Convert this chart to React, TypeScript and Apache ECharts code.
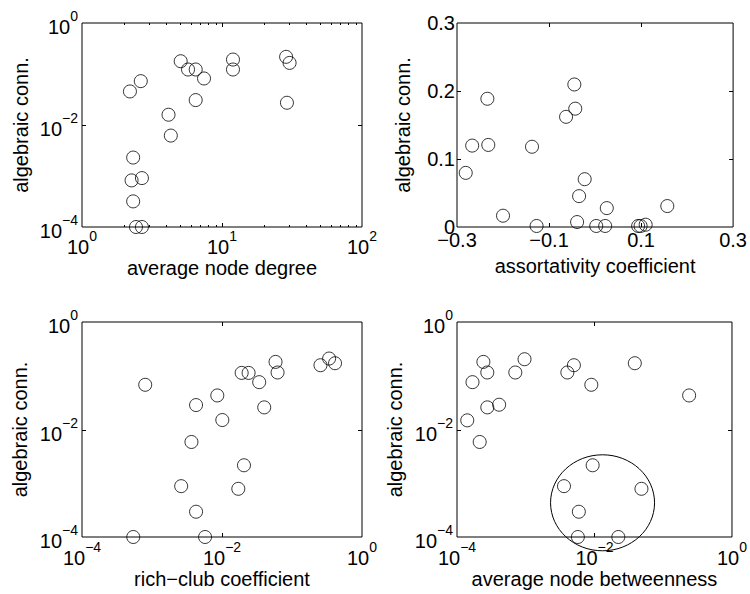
import React, { useEffect, useRef } from 'react';
import * as echarts from 'echarts';

// Panel 1: average node degree vs algebraic connectivity
const degreeX = [2.2, 2.63, 5.07, 5.72, 6.49, 7.44, 6.49, 4.15, 4.31, 11.98, 11.98, 28.7, 30.4, 29.1, 2.32, 2.26, 2.68, 2.32, 2.43, 2.68];
const degreeY = [0.0455, 0.0724, 0.178, 0.1225, 0.1225, 0.0817, 0.0308, 0.0159, 0.0062, 0.192, 0.1225, 0.217, 0.165, 0.0273, 0.0023, 0.00082, 0.00091, 0.000318, 0.0001, 0.0001];

// Panel 2: assortativity coefficient
const assortX = [-0.281, -0.267, -0.234, -0.232, -0.2, -0.137, -0.127, -0.063, -0.045, -0.043, -0.0225, -0.0347, -0.039, 0.0026, 0.022, 0.0255, 0.0936, 0.099, 0.11, 0.157];
const assortY = [0.0796, 0.1197, 0.1886, 0.1207, 0.0166, 0.118, 0.0015, 0.162, 0.2096, 0.174, 0.0703, 0.0454, 0.0073, 0.0015, 0.0015, 0.0278, 0.0015, 0.0015, 0.0034, 0.0308];

// Panel 3: rich-club coefficient
const richX = [5.4e-4, 8.0e-4, 4.26e-3, 3.66e-3, 2.61e-3, 4.26e-3, 5.73e-3, 8.57e-3, 1.01e-2, 1.91e-2, 2.4e-2, 3.4e-2, 4.01e-2, 5.82e-2, 6.22e-2, 2.06e-2, 1.71e-2, 0.255, 0.339, 0.412];
const richY = [1e-4, 0.0679, 0.0285, 0.00586, 8.83e-4, 2.95e-4, 1e-4, 0.043, 0.015, 0.113, 0.113, 0.076, 0.0258, 0.181, 0.115, 0.00216, 7.88e-4, 0.157, 0.209, 0.171];

// Panel 4: average node betweenness
const betwX = [1.41e-4, 1.68e-4, 2.14e-4, 2.42e-4, 2.76e-4, 2.76e-4, 4.1e-4, 7.05e-4, 9.6e-4, 4.03e-3, 5.02e-3, 8.99e-3, 3.86e-2, 0.238, 9.4e-3, 3.6e-3, 4.82e-2, 5.92e-3, 5.73e-3, 2.22e-2];
const betwY = [0.0148, 0.076, 0.00586, 0.181, 0.115, 0.0258, 0.0289, 0.115, 0.203, 0.115, 0.157, 0.0679, 0.171, 0.043, 0.00216, 8.83e-4, 7.88e-4, 2.95e-4, 1e-4, 1e-4];

// Highlight ellipse centre (data coordinates, panel 4)
const ellipseCenter = [1.31e-2, 4.33e-4];

// Tick values
const p1XMajor = [10];
const p1XMinor = [2, 3, 4, 5, 6, 7, 8, 9, 20, 30, 40, 50, 60, 70, 80, 90];
const logYMajor = [0.01];
const p2XTicks = [-0.1, 0.1];
const p2YTicks = [0.1, 0.2];
const p34XMajor = [0.01];

const FONT = '"Liberation Sans", Arial, Helvetica, sans-serif';

const supFmt = (evenOnly: boolean) => (v: number) => {
  const e = Math.round(Math.log10(v));
  if (evenOnly && e % 2 !== 0) return '';
  const es = e < 0 ? '\u2212' + -e : String(e);
  return `{b|10}{s|${es}}`;
};

const rich = {
  b: { fontSize: 20, fontFamily: FONT, color: '#000', lineHeight: 28, verticalAlign: 'bottom' },
  s: { fontSize: 14, fontFamily: FONT, color: '#000', lineHeight: 14, verticalAlign: 'top' },
};

const linFmt = (v: number) => {
  const r = Math.round(v * 10) / 10;
  if (r === 0) return '0';
  return r < 0 ? '\u2212' + String(-r) : String(r);
};

const nameStyle = { fontSize: 20, fontFamily: FONT, color: '#000' };

function axisBase(gridIndex: number, name: string, nameGap: number) {
  return {
    gridIndex,
    name,
    nameLocation: 'middle',
    nameGap,
    nameTextStyle: nameStyle,
    axisLine: { show: false },
    axisTick: { show: false },
    splitLine: { show: false },
    minorTick: { show: false },
    minorSplitLine: { show: false },
  };
}

function tickSeries(
  idx: number,
  dir: 'x' | 'y',
  values: number[],
  len: number,
  xr: number[],
  yr: number[]
) {
  const data = values.map((v) => (dir === 'x' ? [v, yr[0]] : [xr[0], v]));
  return {
    type: 'custom',
    xAxisIndex: idx,
    yAxisIndex: idx,
    clip: false,
    silent: true,
    data,
    renderItem: (_p: any, api: any) => {
      const v = api.value(dir === 'x' ? 0 : 1);
      const st = { stroke: '#000', lineWidth: 1 };
      if (dir === 'x') {
        const a = api.coord([v, yr[0]]);
        const b = api.coord([v, yr[1]]);
        const x = Math.round(a[0]) + 0.5;
        return {
          type: 'group',
          children: [
            { type: 'line', shape: { x1: x, y1: a[1], x2: x, y2: a[1] - len }, style: st },
            { type: 'line', shape: { x1: x, y1: b[1], x2: x, y2: b[1] + len }, style: st },
          ],
        };
      }
      const a = api.coord([xr[0], v]);
      const b = api.coord([xr[1], v]);
      const y = Math.round(a[1]) + 0.5;
      return {
        type: 'group',
        children: [
          { type: 'line', shape: { x1: a[0], y1: y, x2: a[0] + len, y2: y }, style: st },
          { type: 'line', shape: { x1: b[0], y1: y, x2: b[0] - len, y2: y }, style: st },
        ],
      };
    },
  };
}

function scatter(idx: number, xs: number[], ys: number[]) {
  return {
    type: 'scatter',
    xAxisIndex: idx,
    yAxisIndex: idx,
    clip: false,
    symbol: 'circle',
    symbolSize: 13,
    itemStyle: { color: 'rgba(255,255,255,0)', borderColor: '#000', borderWidth: 1 },
    data: xs.map((x, i) => [x, ys[i]]),
  };
}

export default function App() {
  const ref = useRef<HTMLDivElement>(null);
  useEffect(() => {
    if (!ref.current) return;
    const chart = echarts.init(ref.current, undefined, { renderer: 'svg' });
    const gridStyle = { show: true, borderColor: '#000', borderWidth: 1, backgroundColor: 'transparent' };
    const p1x = [1, 100], p1y = [1e-4, 1];
    const p2x = [-0.3, 0.3], p2y = [0, 0.3];
    const p3x = [1e-4, 1], p3y = [1e-4, 1];
    const linLabel = { formatter: linFmt, fontSize: 20, fontFamily: FONT, color: '#000', lineHeight: 14, showMinLabel: true, showMaxLabel: true };
    const option: any = {
      animation: false,
      backgroundColor: '#fff',
      grid: [
        { left: 82, top: 23, width: 280, height: 204, ...gridStyle },
        { left: 457, top: 23, width: 278, height: 204, ...gridStyle },
        { left: 82, top: 322, width: 280, height: 215, ...gridStyle },
        { left: 457, top: 322, width: 278, height: 215, ...gridStyle },
      ],
      xAxis: [
        {
          ...axisBase(0, 'average node degree', 29),
          type: 'log', logBase: 10, min: p1x[0], max: p1x[1],
          axisLabel: { formatter: supFmt(false), rich, margin: 2, showMinLabel: true, showMaxLabel: true },
        },
        {
          ...axisBase(1, 'assortativity coefficient', 29),
          type: 'value', min: p2x[0], max: p2x[1], interval: 0.2,
          axisLabel: { ...linLabel, margin: 6 },
        },
        {
          ...axisBase(2, 'rich\u2212club coefficient', 32),
          type: 'log', logBase: 10, min: p3x[0], max: p3x[1],
          axisLabel: { formatter: supFmt(true), rich, margin: 3, showMinLabel: true, showMaxLabel: true },
        },
        {
          ...axisBase(3, 'average node betweenness', 32),
          type: 'log', logBase: 10, min: p3x[0], max: p3x[1],
          axisLabel: { formatter: supFmt(true), rich, margin: 3, showMinLabel: true, showMaxLabel: true },
        },
      ],
      yAxis: [
        {
          ...axisBase(0, 'algebraic conn.', 51),
          type: 'log', logBase: 10, min: p1y[0], max: p1y[1],
          axisLabel: { formatter: supFmt(true), rich, margin: 4, showMinLabel: true, showMaxLabel: true },
        },
        {
          ...axisBase(1, 'algebraic conn.', 44),
          type: 'value', min: p2y[0], max: p2y[1], interval: 0.1,
          axisLabel: { ...linLabel, margin: 2 },
        },
        {
          ...axisBase(2, 'algebraic conn.', 52),
          type: 'log', logBase: 10, min: p3y[0], max: p3y[1],
          axisLabel: { formatter: supFmt(true), rich, margin: 4, showMinLabel: true, showMaxLabel: true },
        },
        {
          ...axisBase(3, 'algebraic conn.', 52),
          type: 'log', logBase: 10, min: p3y[0], max: p3y[1],
          axisLabel: { formatter: supFmt(true), rich, margin: 4, showMinLabel: true, showMaxLabel: true },
        },
      ],
      series: [
        tickSeries(0, 'x', p1XMajor, 4, p1x, p1y),
        tickSeries(0, 'x', p1XMinor, 2, p1x, p1y),
        tickSeries(0, 'y', logYMajor, 4, p1x, p1y),
        tickSeries(1, 'x', p2XTicks, 4, p2x, p2y),
        tickSeries(1, 'y', p2YTicks, 4, p2x, p2y),
        tickSeries(2, 'x', p34XMajor, 4, p3x, p3y),
        tickSeries(2, 'y', logYMajor, 4, p3x, p3y),
        tickSeries(3, 'x', p34XMajor, 4, p3x, p3y),
        tickSeries(3, 'y', logYMajor, 4, p3x, p3y),
        scatter(0, degreeX, degreeY),
        scatter(1, assortX, assortY),
        scatter(2, richX, richY),
        scatter(3, betwX, betwY),
        {
          type: 'custom',
          xAxisIndex: 3,
          yAxisIndex: 3,
          clip: false,
          silent: true,
          data: [ellipseCenter],
          renderItem: (_p: any, api: any) => {
            const c = api.coord([api.value(0), api.value(1)]);
            return {
              type: 'ellipse',
              shape: { cx: c[0], cy: c[1], rx: 52, ry: 48 },
              style: { fill: 'none', stroke: '#000', lineWidth: 1 },
            };
          },
        },
      ],
    };
    chart.setOption(option);
    return () => chart.dispose();
  }, []);
  return <div ref={ref} style={{ position: 'absolute', left: 0, top: 0, width: 750, height: 594 }} />;
}
